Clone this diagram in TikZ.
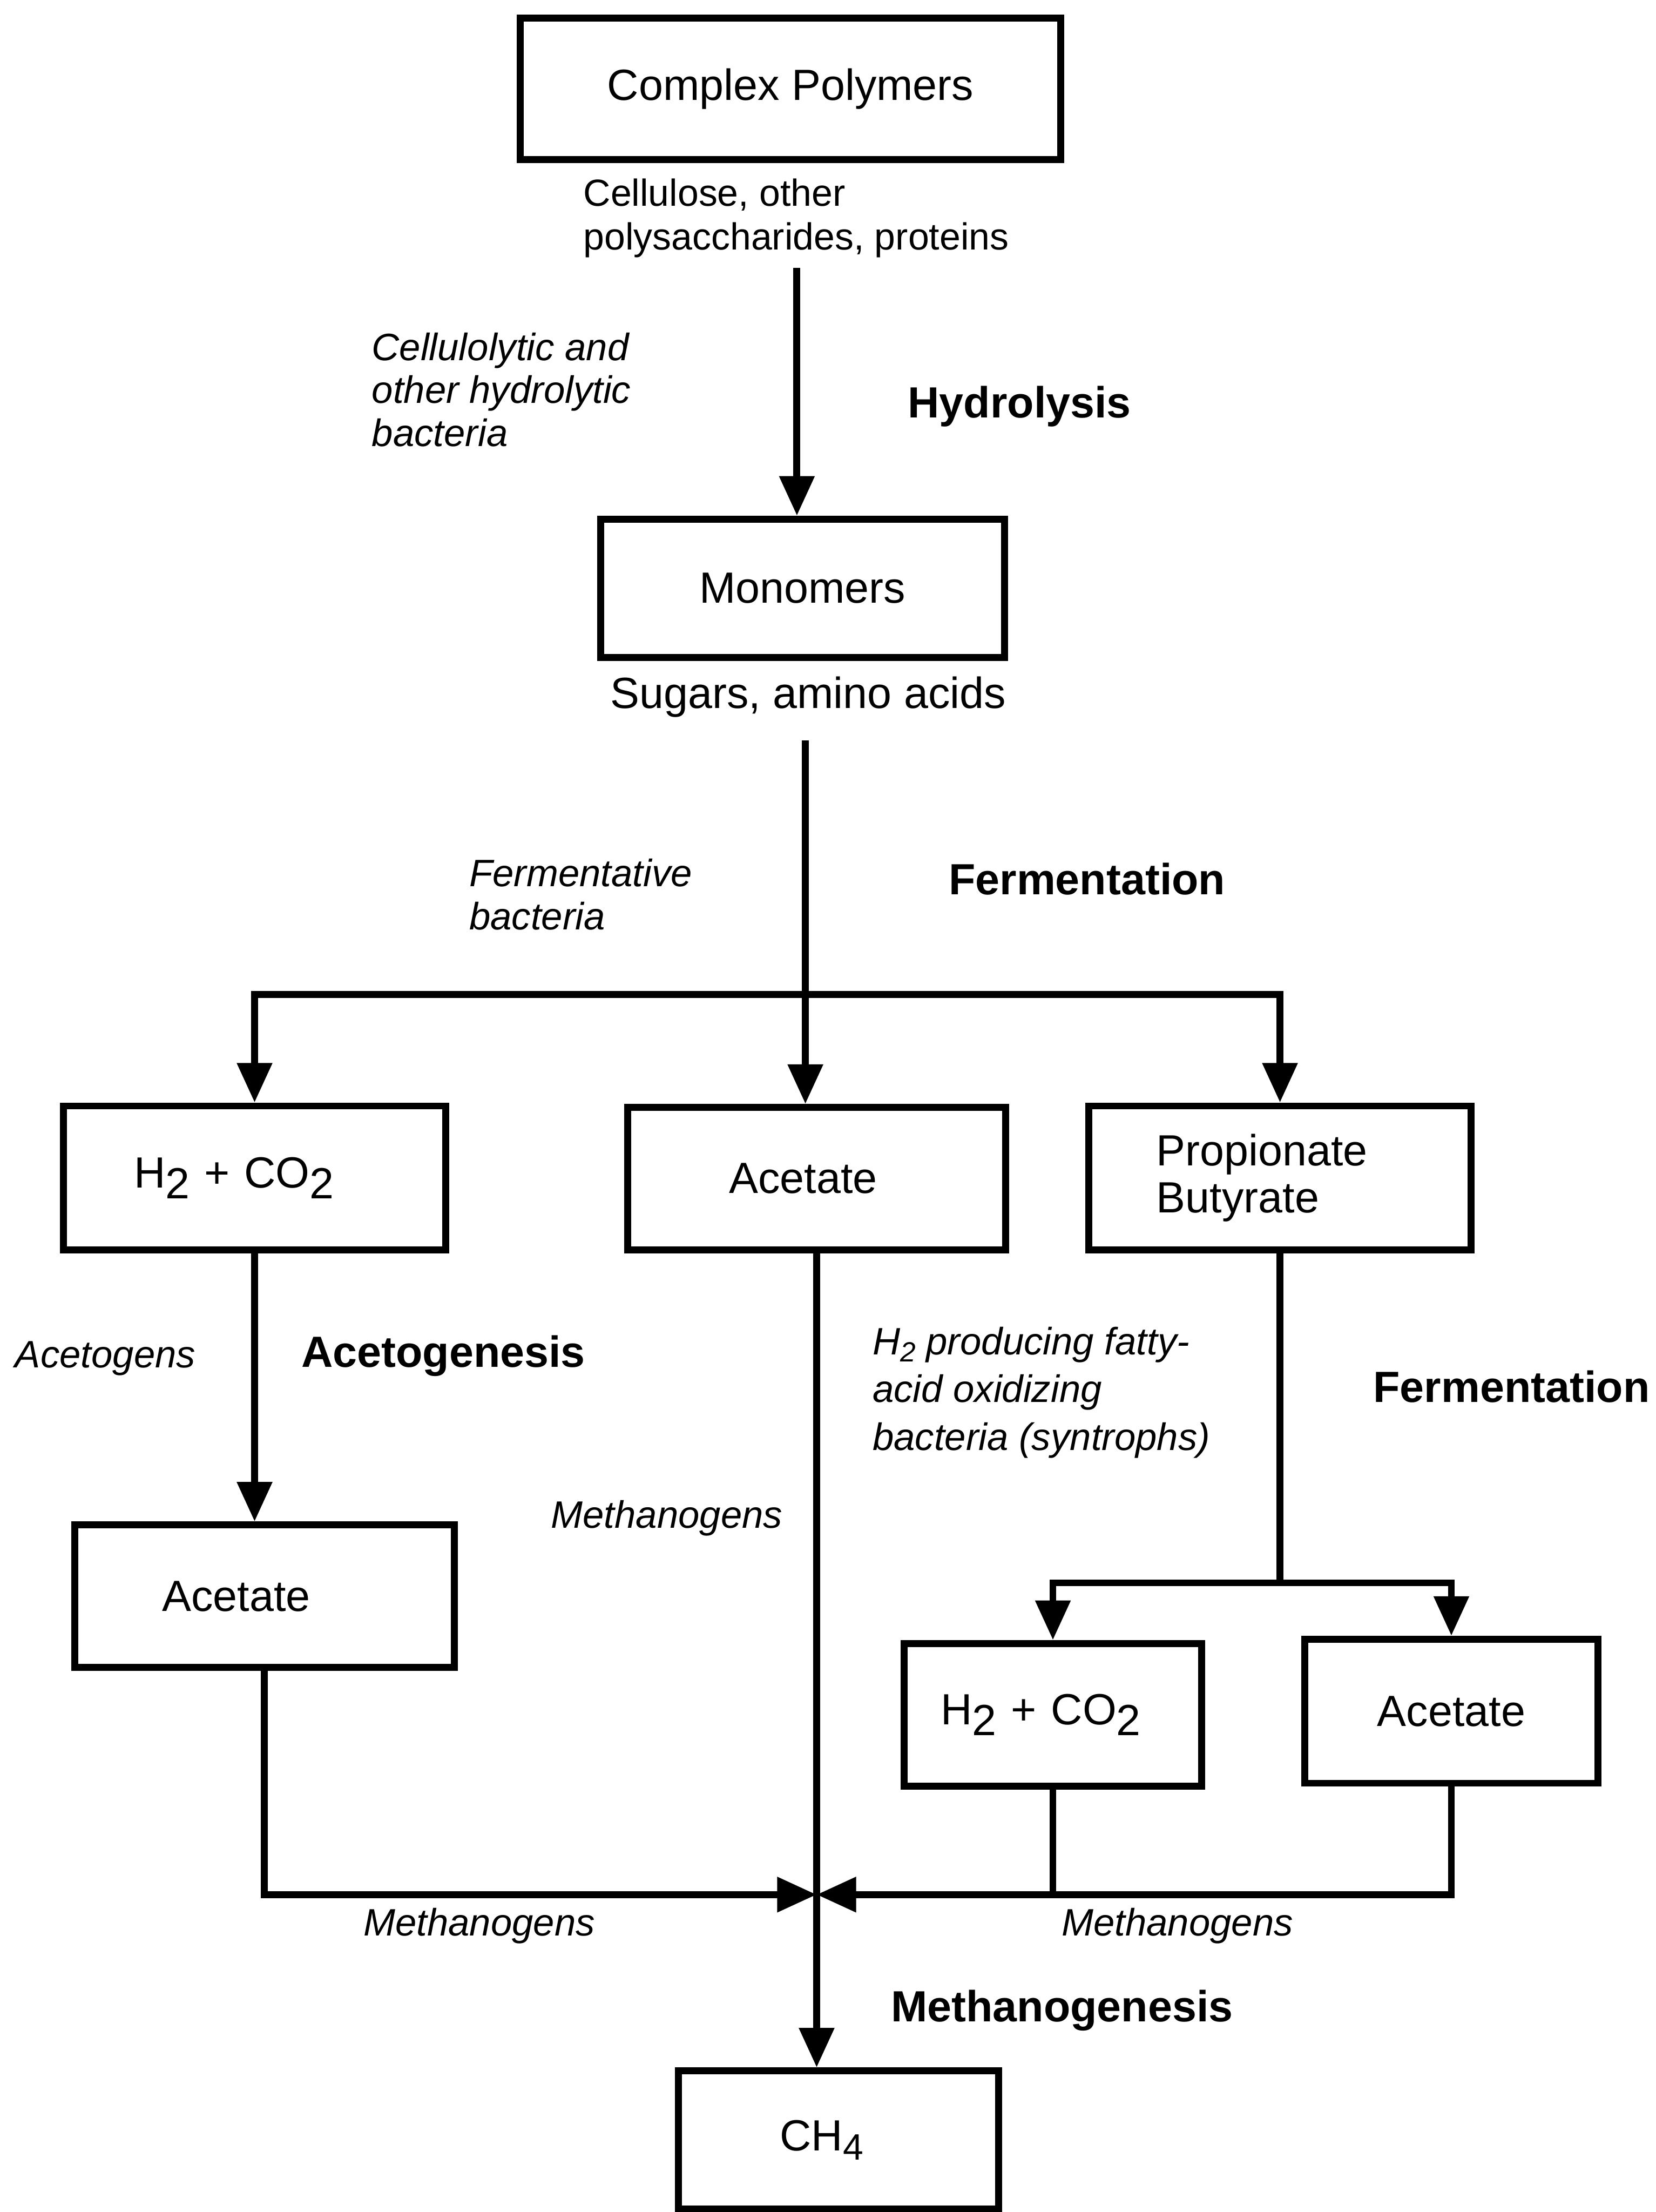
\documentclass[tikz,border=0pt]{standalone}
\usepackage{fontspec}
\setmainfont{Liberation Sans}
\usetikzlibrary{arrows.meta}
\newcommand{\lowsub}[1]{\raisebox{-0.45ex}{#1}}
\newcommand{\smallsub}[1]{\raisebox{-0.35ex}{\fontsize{5.6}{6}\selectfont #1}}
\begin{document}
\begin{tikzpicture}[x=0.01cm, y=-0.01cm,
  box/.style={draw, line width=1.4pt, inner sep=0pt, font=\fontsize{8.8}{10.5}\selectfont},
  lbox/.style={box, align=left},
  arr/.style={line width=1.4pt, -{Triangle[length=0.28cm, width=0.24cm]}},
  ln/.style={line width=1.4pt},
  stage/.style={font=\fontsize{8.8}{10.5}\bfseries\selectfont, inner sep=0pt, anchor=west},
  org/.style={font=\fontsize{7.7}{8.7}\itshape\selectfont, inner sep=0pt, align=left},
  note/.style={font=\fontsize{7.6}{8.8}\selectfont, inner sep=0pt, align=left}
]
\fill[white] (0,0) rectangle (1174,1568);
\useasboundingbox (0,0) rectangle (1174,1568);

% boxes
\node[box, minimum width=3.83cm, minimum height=1.00cm] (cp) at (560.5,63) {Complex Polymers};
\node[box, minimum width=2.86cm, minimum height=0.98cm] (mono) at (569,417) {Monomers};
\node[lbox, text width=1.71cm, inner xsep=0.50cm, minimum height=1.02cm] (h2a) at (180.5,835) {H\lowsub{2} + CO\lowsub{2}};
\node[lbox, text width=1.24cm, inner xsep=0.72cm, minimum height=1.01cm] (aceM) at (579,835.5) {Acetate};
\node[lbox, text width=1.75cm, inner xsep=0.48cm, minimum height=1.02cm,
      font=\fontsize{8.8}{9.4}\selectfont] (prop) at (907.5,835) {Propionate\\Butyrate};
\node[lbox, text width=1.45cm, inner xsep=0.62cm, minimum height=1.01cm] (aceL) at (187.5,1131.5) {Acetate};
\node[lbox, text width=1.59cm, inner xsep=0.26cm, minimum height=1.01cm] (h2b) at (746.5,1215.5) {H\lowsub{2} + CO\lowsub{2}};
\node[box, minimum width=2.08cm, minimum height=1.02cm] (aceR) at (1029,1213) {Acetate};
\node[lbox, text width=0.83cm, inner xsep=0.72cm, minimum height=0.98cm] (ch4) at (594.5,1517) {CH\raisebox{-0.4ex}{\fontsize{7.4}{8}\selectfont 4}};

% labels
\node[note, anchor=north west] (lcell) at (413,126) {Cellulose, other\\polysaccharides, proteins};
\node[org, anchor=north west] (lhydb) at (263,235) {Cellulolytic and\\other hydrolytic\\bacteria};
\node[stage] (lhyd) at (643,288) {Hydrolysis};
\node[inner sep=0pt, font=\fontsize{8.8}{10.5}\selectfont] (lsug) at (573,494) {Sugars, amino acids};
\node[org, anchor=north west] (lferb) at (332,608) {Fermentative\\bacteria};
\node[stage] (lfer) at (672,623) {Fermentation};
\node[org, anchor=west] (lacg) at (10,963) {Acetogens};
\node[stage] (lacgs) at (213,961) {Acetogenesis};
\node[org, anchor=west] (lmeth1) at (390,1076) {Methanogens};
\node[org, anchor=north west, font=\fontsize{7.7}{9.6}\itshape\selectfont] (lsyn) at (618,940) {H\smallsub{2} producing fatty-\\acid oxidizing\\bacteria (syntrophs)};
\node[stage] (lfer2) at (973,983) {Fermentation};
\node[org, anchor=west] (lmeth2) at (257,1365) {Methanogens};
\node[org, anchor=west] (lmeth3) at (752,1365) {Methanogens};
\node[stage] (lmgs) at (631,1425) {Methanogenesis};

% connectors
\coordinate (c1) at (565,190);
\coordinate (c2) at (571,525);
\coordinate (j1) at (c2 |- 0,705);
\draw[arr] (c1) -- (c1 |- mono.north);
\draw[arr] (c2) -- (c2 |- aceM.north);
\draw[arr] (j1) -| (h2a.north);
\draw[arr] (j1) -| (prop.north);
\draw[arr] (h2a.south) -- (h2a.south |- aceL.north);
\draw[arr] (aceM.south) -- (aceM.south |- ch4.north);
\coordinate (j2) at (prop.south |- 0,1122);
\draw[ln] (prop.south) -- (j2);
\draw[arr] (j2) -| (h2b.north);
\draw[arr] (j2) -| (aceR.north);
\coordinate (m) at (aceM.south |- 0,1343);
\draw[arr] (aceL.south) |- (m);
\draw[arr] (aceR.south) |- (m);
\draw[ln] (h2b.south) -- (h2b.south |- m);
\end{tikzpicture}
\end{document}
